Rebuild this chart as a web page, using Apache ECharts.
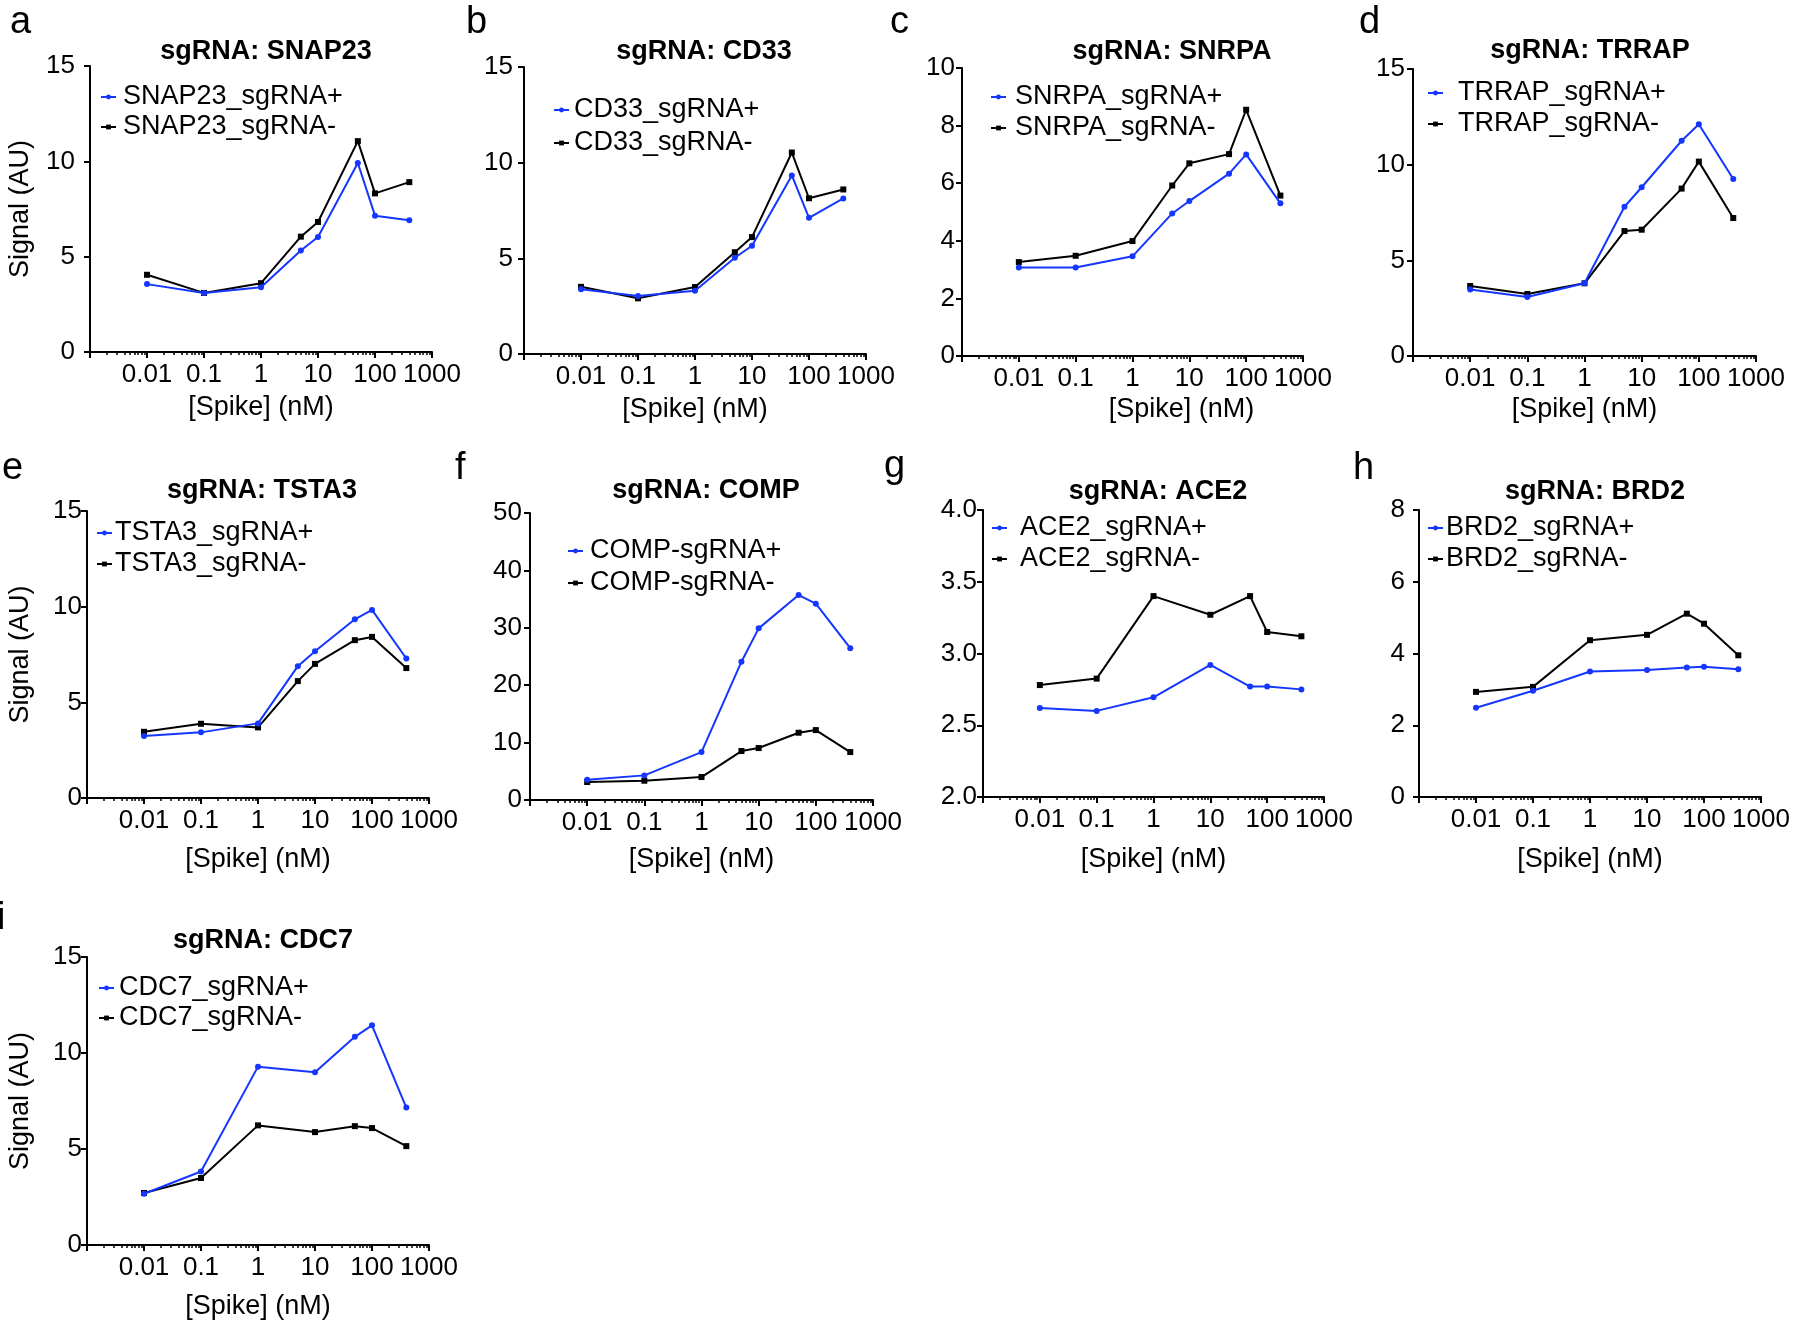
<!DOCTYPE html>
<html><head><meta charset="utf-8">
<script src="https://cdn.jsdelivr.net/npm/echarts@6/dist/echarts.min.js"></script>
<style>html,body{margin:0;padding:0;background:#fff}#c{width:1800px;height:1324px}</style>
</head><body><div id="c"></div>
<script>
// ---------- data ----------
const concFull = [0.01, 0.1, 1, 5, 10, 50, 100, 400];
const concShort = [0.01, 0.1, 1, 10, 50, 100, 400];
const xTickLabels = ['', '0.01', '0.1', '1', '10', '100', '1000'];

const snap23Plus  = [3.56, 3.09, 3.40, 5.32, 6.03, 9.91, 7.15, 6.91];
const snap23Minus = [4.05, 3.10, 3.61, 6.05, 6.82, 11.06, 8.32, 8.91];
const cd33Plus    = [3.39, 3.03, 3.31, 5.03, 5.66, 9.33, 7.12, 8.13];
const cd33Minus   = [3.51, 2.91, 3.50, 5.32, 6.11, 10.53, 8.14, 8.60];
const snrpaPlus   = [3.07, 3.07, 3.46, 4.95, 5.38, 6.33, 7.00, 5.30];
const snrpaMinus  = [3.26, 3.48, 3.99, 5.92, 6.69, 7.01, 8.55, 5.57];
const trrapPlus   = [3.48, 3.08, 3.80, 7.80, 8.82, 11.25, 12.11, 9.25];
const trrapMinus  = [3.66, 3.24, 3.80, 6.53, 6.60, 8.75, 10.16, 7.21];
const tsta3Plus   = [3.24, 3.43, 3.90, 6.89, 7.67, 9.34, 9.83, 7.29];
const tsta3Minus  = [3.46, 3.88, 3.69, 6.11, 7.01, 8.25, 8.42, 6.79];
const compPlus    = [3.54, 4.29, 8.35, 24.1, 29.9, 35.7, 34.2, 26.45];
const compMinus   = [3.13, 3.36, 4.0, 8.53, 9.05, 11.72, 12.18, 8.35];
const ace2Plus    = [2.62, 2.60, 2.695, 2.92, 2.77, 2.77, 2.75];
const ace2Minus   = [2.78, 2.825, 3.40, 3.27, 3.40, 3.15, 3.12];
const brd2Plus    = [2.49, 2.96, 3.50, 3.54, 3.61, 3.63, 3.56];
const brd2Minus   = [2.93, 3.07, 4.37, 4.52, 5.11, 4.83, 3.95];
const cdc7Plus    = [2.67, 3.83, 9.29, 9.00, 10.84, 11.44, 7.16];
const cdc7Minus   = [2.71, 3.49, 6.23, 5.88, 6.19, 6.09, 5.15];

const panels = [
  {letter:'a', gene:'SNAP23', sep:'_', x:concFull,  plus:snap23Plus, minus:snap23Minus, yMin:0, yMax:15, yInt:5, yName:true},
  {letter:'b', gene:'CD33',   sep:'_', x:concFull,  plus:cd33Plus,   minus:cd33Minus,   yMin:0, yMax:15, yInt:5},
  {letter:'c', gene:'SNRPA',  sep:'_', x:concFull,  plus:snrpaPlus,  minus:snrpaMinus,  yMin:0, yMax:10, yInt:2},
  {letter:'d', gene:'TRRAP',  sep:'_', x:concFull,  plus:trrapPlus,  minus:trrapMinus,  yMin:0, yMax:15, yInt:5},
  {letter:'e', gene:'TSTA3',  sep:'_', x:concFull,  plus:tsta3Plus,  minus:tsta3Minus,  yMin:0, yMax:15, yInt:5, yName:true},
  {letter:'f', gene:'COMP',   sep:'-', x:concFull,  plus:compPlus,   minus:compMinus,   yMin:0, yMax:50, yInt:10},
  {letter:'g', gene:'ACE2',   sep:'_', x:concShort, plus:ace2Plus,   minus:ace2Minus,   yMin:2, yMax:4, yInt:0.5, yFix:1},
  {letter:'h', gene:'BRD2',   sep:'_', x:concShort, plus:brd2Plus,   minus:brd2Minus,   yMin:0, yMax:8, yInt:2},
  {letter:'i', gene:'CDC7',   sep:'_', x:concShort, plus:cdc7Plus,   minus:cdc7Minus,   yMin:0, yMax:15, yInt:5, yName:true}
];

// ---------- layout (positions / sizes) ----------
// lg: [left, centre-y of first item, spacing between items, extra text padding]
const layout = [
  {g:[90,66,342,286],   title:[261,48],  xn:[0,42],  yl:15, lg:[100,97,30,2],   letter:[21,26]},
  {g:[524,67,342,287],  title:[699,48],  xn:[0,42],  yl:11, lg:[553,110,33,0],  letter:[477,26]},
  {g:[962,68,341,288],  title:[1167,48], xn:[98,40], yl:7,  lg:[990,97,31,4],   letter:[901,26]},
  {g:[1413,69,343,287], title:[1585,47], xn:[0,40],  yl:8,  lg:[1427,93,31,10], letter:[1370,26]},
  {g:[87,511,342,287],  title:[257,487], xn:[0,48],  yl:5,  lg:[96,533,31,-2],  letter:[13,472]},
  {g:[530,513,343,287], title:[701,487], xn:[0,46],  yl:8,  lg:[567,551,32,2],  letter:[466,472]},
  {g:[983,510,341,287], title:[1153,488],xn:[0,49],  yl:6,  lg:[991,528,31,8],  letter:[895,470]},
  {g:[1419,510,342,287],title:[1590,488],xn:[0,49],  yl:14, lg:[1427,528,31,-2],letter:[1364,472]},
  {g:[87,957,342,288],  title:[258,937], xn:[0,48],  yl:5,  lg:[98,988,30,0],   letter:[8,922]}
];

const FONT = '"Liberation Sans", Arial, Helvetica, sans-serif';
const BLUE = '#1536ff';
const BLACK = '#000000';
const FS = 27;      // legend / axis-name size
const TICK_FS = 26; // tick labels

// minor log tick positions (axis decoration only)
const minorTickValues = [];
[0.001, 0.01, 0.1, 1, 10, 100].forEach(d => { for (let m = 2; m <= 9; m++) minorTickValues.push(+(d * m).toPrecision(3)); });

const option = {
  animation: false,
  backgroundColor: '#ffffff',
  textStyle: {fontFamily: FONT},
  grid: [], xAxis: [], yAxis: [], series: [], title: [], legend: [], graphic: []
};

panels.forEach((p, i) => {
  const L = layout[i];
  option.grid.push({left: L.g[0], top: L.g[1], width: L.g[2], height: L.g[3], containLabel: false});
  option.xAxis.push({
    type: 'log', logBase: 10, gridIndex: i, min: 0.001, max: 1000,
    name: '[Spike] (nM)', nameLocation: 'middle', nameGap: L.xn[1],
    nameTextStyle: {fontSize: FS, color: '#000', fontFamily: FONT, padding: [0, 0, 0, L.xn[0]]},
    axisLine: {show: true, onZero: false, lineStyle: {color: '#000', width: 2}},
    axisTick: {show: true, length: 6, lineStyle: {color: '#000', width: 2}},
    axisLabel: {show: true, fontSize: TICK_FS, color: '#000', fontFamily: FONT, margin: 10,
                formatter: (v, idx) => xTickLabels[idx] !== undefined ? xTickLabels[idx] : ''},
    splitLine: {show: false}, minorTick: {show: false}
  });
  option.yAxis.push({
    type: 'value', gridIndex: i, min: p.yMin, max: p.yMax, interval: p.yInt,
    name: p.yName ? 'Signal (AU)' : '', nameLocation: 'middle', nameGap: L.g[0] - 34,
    nameTextStyle: {fontSize: FS, color: '#000', fontFamily: FONT},
    axisLine: {show: true, onZero: false, lineStyle: {color: '#000', width: 2}},
    axisTick: {show: true, length: 6, lineStyle: {color: '#000', width: 2}},
    axisLabel: {show: true, fontSize: TICK_FS, color: '#000', fontFamily: FONT, margin: L.yl,
                formatter: v => p.yFix ? v.toFixed(p.yFix) : String(v)},
    splitLine: {show: false}
  });
  const nPlus = p.gene + p.sep + 'sgRNA+';
  const nMinus = p.gene + p.sep + 'sgRNA-';
  option.series.push({
    type: 'line', name: nPlus, xAxisIndex: i, yAxisIndex: i,
    data: p.x.map((c, j) => [c, p.plus[j]]),
    symbol: 'circle', symbolSize: 6, showAllSymbol: true,
    lineStyle: {color: BLUE, width: 2}, itemStyle: {color: BLUE}, z: 3
  });
  option.series.push({
    type: 'line', name: nMinus, xAxisIndex: i, yAxisIndex: i,
    data: p.x.map((c, j) => [c, p.minus[j]]),
    symbol: 'rect', symbolSize: 6, showAllSymbol: true,
    lineStyle: {color: BLACK, width: 2}, itemStyle: {color: BLACK}, z: 2
  });
  option.title.push({
    text: 'sgRNA: ' + p.gene, left: L.title[0], top: L.title[1] - 15, textAlign: 'center',
    textStyle: {fontSize: 27, fontWeight: 'bold', color: '#000', fontFamily: FONT}
  });
  option.legend.push({
    orient: 'vertical', left: L.lg[0], top: L.lg[1] - FS / 2, itemGap: L.lg[2] - FS,
    itemWidth: 15, itemHeight: 6, padding: 0,
    data: [nPlus, nMinus],
    textStyle: {fontSize: FS, lineHeight: FS, color: '#000', fontFamily: FONT, padding: [0, 0, 0, L.lg[3]]}
  });
  option.graphic.push({
    type: 'text', left: L.letter[0] - 11, top: L.letter[1] - 22,
    style: {text: p.letter, fontSize: 38, fill: '#000', fontFamily: FONT}
  });
});

panels.forEach((p, i) => {
  option.xAxis.push({
    type: 'log', logBase: 10, gridIndex: i, min: 0.001, max: 1000, position: 'bottom',
    axisLine: {show: false}, axisLabel: {show: false}, splitLine: {show: false},
    axisTick: {show: true, length: 3, customValues: minorTickValues, lineStyle: {color: '#000', width: 1.5}}
  });
});

const chart = echarts.init(document.getElementById('c'), null, {renderer: 'canvas'});
chart.setOption(option);
</script></body></html>
